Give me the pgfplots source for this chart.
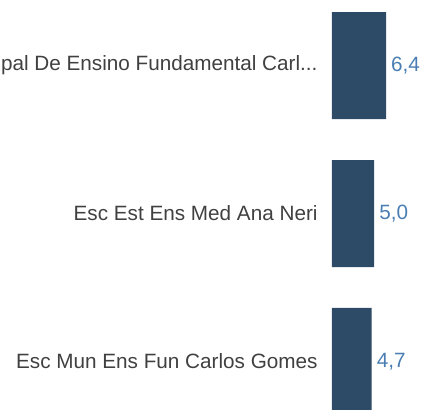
\documentclass[border=0pt]{standalone}
\usepackage{pgfplots}
\pgfplotsset{compat=1.18}
\usepackage{fontspec}
\setmainfont{Liberation Sans}
\definecolor{barcol}{HTML}{2D4A67}
\definecolor{labcol}{HTML}{404040}
\definecolor{valcol}{HTML}{4A7EB3}
\begin{document}
\begin{tikzpicture}
\useasboundingbox (0,0) rectangle (421pt,410pt);
\clip (0,0) rectangle (421pt,410pt);
\begin{axis}[
  at={(332pt,0pt)}, anchor=south west,
  scale only axis,
  width=89pt, height=410pt,
  xmin=0, xmax=10.545,
  ymin=-0.3277, ymax=2.4426,
  xbar, bar width=107pt,
  axis line style={draw=none},
  tick style={draw=none},
  xtick=\empty,
  ytick={0,1,2},
  yticklabels={Esc Mun Ens Fun Carlos Gomes, Esc Est Ens Med Ana Neri, {Escola Municipal De Ensino Fundamental Carl{.}{.}{.}}},
  yticklabel style={font=\fontsize{20.7}{24}\selectfont, text=labcol, inner sep=0pt, anchor=east, xshift=-10pt},
  nodes near coords={\pgfmathprintnumber[fixed,fixed zerofill,precision=1,use comma,assume math mode=true]{\pgfplotspointmeta}},
  nodes near coords style={font=\fontsize{20.7}{24}\selectfont, text=valcol, inner sep=0pt, anchor=west, xshift=5pt},
  point meta=explicit,
]
\addplot[fill=barcol, draw=none] coordinates {(4.7,0) [4.7] (5.0,1) [5.0] (6.4,2) [6.4]};
\end{axis}
\end{tikzpicture}
\end{document}
